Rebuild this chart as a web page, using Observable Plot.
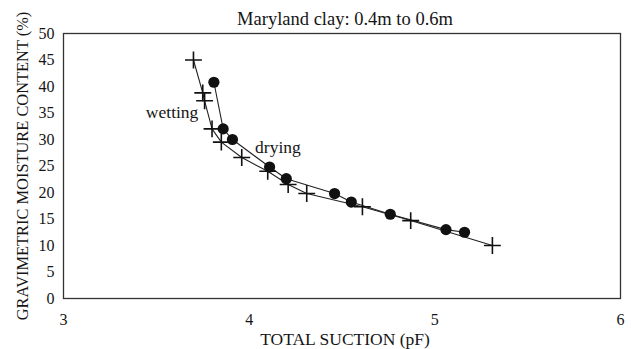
<!DOCTYPE html>
<html>
<head>
<meta charset="utf-8">
<script src="https://cdn.jsdelivr.net/npm/d3@7"></script>
<script src="https://cdn.jsdelivr.net/npm/@observablehq/plot@0.6"></script>
<style>
  body { margin: 0; background: #fff; }
</style>
</head>
<body>
<div id="chart"></div>
<script>
// Wetting path (crosses): total suction (pF) vs gravimetric moisture content (%)
const wettingSuction = [3.70, 3.75, 3.76, 3.80, 3.85, 3.96, 4.10, 4.21, 4.31, 4.61, 4.87, 5.31];
const wettingMoisture = [45.0, 38.8, 37.3, 32.0, 29.5, 26.6, 24.0, 21.5, 19.8, 17.3, 14.7, 10.0];

// Drying path (filled circles)
const dryingSuction = [3.81, 3.86, 3.91, 4.11, 4.20, 4.46, 4.55, 4.76, 5.06, 5.16];
const dryingMoisture = [40.8, 32.0, 30.0, 24.8, 22.6, 19.8, 18.2, 15.9, 13.0, 12.5];

// Curve labels
const labelNames = ["wetting", "drying"];
const labelSuction = [3.585, 4.155];
const labelMoisture = [35.1, 28.5];

// Axis ticks
const xTicks = [3, 4, 5, 6];
const yTicks = [0, 5, 10, 15, 20, 25, 30, 35, 40, 45, 50];

const wetting = wettingSuction.map((s, i) => ({suction: s, moisture: wettingMoisture[i]}));
const drying = dryingSuction.map((s, i) => ({suction: s, moisture: dryingMoisture[i]}));
const labels = labelNames.map((n, i) => ({name: n, suction: labelSuction[i], moisture: labelMoisture[i]}));

const font = "Liberation Serif, DejaVu Serif, serif";
const ink = "#151515";

const chart = Plot.plot({
  width: 631,
  height: 349,
  marginTop: 33,
  marginLeft: 63,
  marginRight: 11,
  marginBottom: 51,
  style: {fontFamily: font, fontSize: "16px", color: ink, background: "#fff", overflow: "visible"},
  x: {domain: [3, 6], label: null},
  y: {domain: [0, 50], label: null},
  marks: [
    Plot.frame({stroke: "#333", strokeWidth: 1.3}),
    Plot.line(wetting, {x: "suction", y: "moisture", stroke: "#222", strokeWidth: 1.1}),
    Plot.line(drying, {x: "suction", y: "moisture", stroke: "#222", strokeWidth: 1.1}),
    Plot.dot(wetting, {x: "suction", y: "moisture", symbol: "plus", r: 5.5, stroke: "#111", strokeWidth: 1.6}),
    Plot.dot(drying, {x: "suction", y: "moisture", r: 5.6, fill: "#111", stroke: "none"}),
    Plot.text(labels, {x: "suction", y: "moisture", text: "name", fontSize: 17.5, fill: ink, textAnchor: "middle"}),
    Plot.axisX({ticks: xTicks, tickFormat: "d", tickSize: 0, tickPadding: 15, label: null, fontSize: 16, fill: ink}),
    Plot.axisY({ticks: yTicks, tickFormat: "d", tickSize: 0, tickPadding: 9, label: null, fontSize: 16, fill: ink}),
    Plot.text(["Maryland clay: 0.4m to 0.6m"], {frameAnchor: "top", lineAnchor: "middle", dx: 3, dy: -14.5, fontSize: 18.5, fill: ink}),
    Plot.text(["TOTAL SUCTION (pF)"], {frameAnchor: "bottom", lineAnchor: "middle", dx: 3, dy: 41, fontSize: 17.5, fill: ink}),
    Plot.text(["GRAVIMETRIC MOISTURE CONTENT (%)"], {frameAnchor: "left", textAnchor: "middle", dx: -41, rotate: -90, fontSize: 16.4, fill: ink})
  ]
});
document.getElementById("chart").appendChild(chart);
</script>
</body>
</html>
